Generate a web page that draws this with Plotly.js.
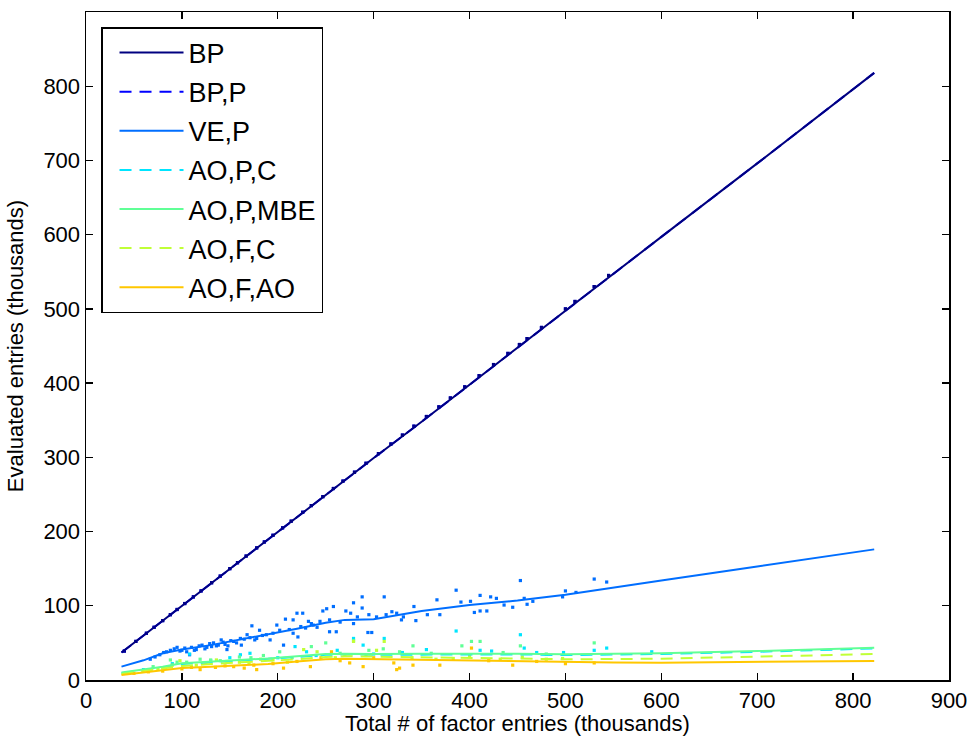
<!DOCTYPE html>
<html>
<head>
<meta charset="utf-8">
<script src="https://cdn.plot.ly/plotly-3.0.1.min.js"></script>
<style>html,body{margin:0;padding:0;background:#fff;}#chart{width:970px;height:738px;}</style>
</head>
<body>
<div id="chart"></div>
<script>
// ---- data (thousands) ----
const seriesNames = ["BP", "BP,P", "VE,P", "AO,P,C", "AO,P,MBE", "AO,F,C", "AO,F,AO"];
const seriesColors = ["#000080", "#0000ff", "#006eff", "#00e5ff", "#60ff96", "#c0ff37", "#ffc700"];
const xTitle = "Total # of factor entries (thousands)";
const yTitle = "Evaluated entries (thousands)";

// smoothed curves
const lineX = [37, 60, 80, 100, 130, 160, 190, 220, 250, 270, 300, 350, 400, 450, 500, 550, 600, 700, 822];
const lineBP    = [37, 60, 80, 100, 129, 159, 189, 219, 249, 269, 299, 348, 398, 448, 497, 547, 597, 696, 818];
const lineBPP   = [37, 60, 80, 100, 129, 159, 189, 219, 249, 269, 299, 348, 398, 448, 497, 547, 597, 696, 818];
const lineVEP   = [18, 26.5, 36, 41, 47, 54, 61, 69, 77, 81, 82, 93, 101, 107, 115, 124, 134, 153, 176];
const lineAOPC  = [9, 13, 17, 21.5, 24, 26, 28, 31, 34, 34.5, 34, 34.5, 35, 34.5, 33.6, 34.2, 35, 38, 42.5];
const lineAOPMBE= [10, 14, 18, 22.5, 25, 27, 29, 32, 35, 35.5, 35, 35.5, 36, 35.5, 34.6, 35.2, 36, 39, 43.5];
const lineAOFC  = [8, 12, 15.5, 19, 21.5, 23.5, 25, 28, 31, 32, 31.5, 30.5, 29.5, 29, 28, 28.2, 28.7, 31.5, 35];
const lineAOFAO = [6.7, 10, 13.5, 16, 18, 20, 21.5, 25, 28, 28.7, 28.2, 27, 25.8, 25, 24, 23.6, 23.4, 24.2, 25.6];

// individual measurements
const ptsBPx = [40, 52, 63, 71, 80, 88, 95, 103, 112, 120, 131, 140, 150, 158, 167, 178, 186, 195, 205, 214, 226, 235, 247, 258, 268, 280, 292, 305, 318, 330, 342, 355, 368, 380, 395, 410, 425, 440, 452, 460, 475, 500, 510, 530, 545];
const ptsBPy = [39, 52, 63, 71, 80, 88, 95, 103, 112, 120, 131, 140, 150, 158, 167, 178, 186, 195, 205, 214, 226, 235, 247, 258, 268, 280, 292, 305, 318, 330, 342, 355, 368, 380, 395, 410, 425, 440, 452, 460, 475, 500, 510, 530, 545];

const ptsVEx = [67, 72, 77, 81, 84, 88, 92, 95, 98, 100, 103, 105, 108, 110, 113, 115, 118, 121, 124, 126, 129, 131, 133, 136, 138, 141, 143, 145, 147, 148, 151, 154, 157, 161, 162, 165, 168, 171, 173, 176, 178, 181, 184, 188, 192, 195, 199, 202, 206, 208, 212, 216, 216, 220, 221, 224, 226, 229, 232, 235, 237, 241, 244, 247, 251, 254, 254, 258, 261, 265, 271, 276, 279, 279, 283, 288, 288, 294, 295, 298, 303, 311, 313, 319, 324, 329, 331, 342, 344, 356, 366, 369, 386, 391, 401, 405, 411, 411, 418, 422, 428, 436, 445, 453, 457, 460, 466, 497, 500, 511, 530, 543];
const ptsVEy = [28, 31, 34, 37, 38, 40, 42, 44, 39, 40, 43, 38, 34, 44, 40, 41, 46, 47, 42, 44, 49, 45, 50, 46, 47, 54, 51, 48, 41, 46, 53, 52, 50, 56, 47, 55, 61, 57, 73, 54, 56, 67, 60, 61, 54, 63, 74, 67, 47, 82, 68, 81, 63, 90, 58, 72, 90, 70, 79, 76, 74, 71, 79, 93, 96, 81, 65, 99, 65, 78, 93, 90, 104, 76, 85, 112, 97, 64, 88, 64, 85, 112, 88, 92, 90, 81, 85, 99, 80, 88, 108, 88, 121, 105, 106, 91, 93, 114, 93, 112, 110, 101, 98, 134, 110, 102, 106, 112, 120, 118, 136, 132];

const ptsAOPCx = [60, 90, 108, 130, 150, 161, 171, 200, 218, 230, 240, 262, 279, 289, 300, 311, 330, 355, 386, 411, 423, 453, 457, 470, 498, 530, 543, 590];
const ptsAOPCy = [14, 22, 35, 26, 30, 34, 36, 30, 45, 38, 33, 40, 56, 47, 35, 56, 37, 41, 66, 40, 39, 61, 43, 37, 37, 40, 43, 38];

const ptsMBEx = [70, 88, 95, 105, 119, 130, 140, 160, 172, 185, 202, 215, 235, 250, 265, 279, 295, 310, 327, 341, 360, 392, 402, 411, 435, 453, 480, 530];
const ptsMBEy = [18, 27, 24, 24, 28, 27, 26, 31, 30, 33, 38, 30, 45, 50, 36, 53, 40, 42, 38, 46, 36, 46, 52, 52, 37, 46, 35, 50];

const ptsAOFCx = [75, 90, 98, 115, 125, 136, 147, 160, 170, 182, 195, 210, 227, 241, 260, 270, 279, 292, 303, 311, 340, 365, 383, 400, 432, 455, 480, 497];
const ptsAOFCy = [15, 20, 26, 20, 23, 27, 25, 24, 22, 28, 27, 24, 41, 38, 30, 34, 52, 33, 40, 52, 30, 28, 29, 33, 28, 31, 28, 29];

const ptsAOFAOx = [50, 65, 80, 100, 110, 119, 135, 145, 154, 165, 175, 178, 195, 206, 220, 234, 245, 256, 265, 275, 289, 300, 321, 324, 327, 341, 369, 402, 420, 445, 470, 500, 530];
const ptsAOFAOy = [9, 11, 12, 15, 17, 14, 17, 19, 18, 16, 20, 14, 22, 16, 25, 18, 30, 38, 26, 23, 18, 30, 23, 14, 16, 20, 20, 43, 26, 20, 25, 22, 23];

const xTicks = [0, 100, 200, 300, 400, 500, 600, 700, 800, 900];
const yTicks = [0, 100, 200, 300, 400, 500, 600, 700, 800, 900];

// ---- traces ----
const lineData = [lineBP, lineBPP, lineVEP, lineAOPC, lineAOPMBE, lineAOFC, lineAOFAO];
const dashes = ["solid", "12px,8px", "solid", "12px,8px", "solid", "12px,8px", "solid"];
const pts = [[ptsBPx, ptsBPy], [ptsBPx, ptsBPy], [ptsVEx, ptsVEy], [ptsAOPCx, ptsAOPCy], [ptsMBEx, ptsMBEy], [ptsAOFCx, ptsAOFCy], [ptsAOFAOx, ptsAOFAOy]];
// drawing order: BP,P beneath BP
const drawOrder = [1, 0, 2, 3, 4, 5, 6];

const traces = [];
drawOrder.forEach(i => {
  traces.push({
    type: "scatter", mode: "markers", x: pts[i][0], y: pts[i][1],
    marker: {symbol: "square", size: 3.2, color: seriesColors[i], line: {width: 0}},
    showlegend: false, hoverinfo: "skip"
  });
});
drawOrder.forEach(i => {
  traces.push({
    type: "scatter", mode: "lines", x: lineX, y: lineData[i], name: seriesNames[i],
    legendgroup: "g" + i, legendrank: i + 1,
    line: {color: seriesColors[i], width: 2, dash: dashes[i]}
  });
});

const font = "'Liberation Sans', Arial, Helvetica, sans-serif";
const axisCommon = {
  showgrid: false, zeroline: false, showline: true, linecolor: "#000", linewidth: 1.5,
  mirror: "ticks", ticks: "inside", ticklen: 7, tickwidth: 1.3, tickcolor: "#000",
  tickfont: {family: font, size: 22, color: "#000"}, automargin: false
};

const layout = {
  width: 970, height: 738,
  margin: {l: 86, r: 21, t: 12, b: 58},
  paper_bgcolor: "#fff", plot_bgcolor: "#fff",
  font: {family: font, color: "#000"},
  xaxis: Object.assign({}, axisCommon, {
    range: [0, 900], tickvals: xTicks, ticktext: xTicks.map(String)
  }),
  yaxis: Object.assign({}, axisCommon, {
    range: [0, 900], tickvals: yTicks, ticktext: yTicks.map(String),
    title: {text: yTitle, font: {family: font, size: 22, color: "#000"}, standoff: 13}
  }),
  annotations: [{
    text: xTitle, xref: "paper", yref: "paper", x: 0.5, y: -0.0655,
    xanchor: "center", yanchor: "middle", showarrow: false,
    font: {family: font, size: 22, color: "#000"}
  }],
  legend: {
    x: 0.0174, y: 0.9775, xanchor: "left", yanchor: "top",
    bgcolor: "#fff", bordercolor: "#000", borderwidth: 1.5,
    font: {family: font, size: 27, color: "#000"},
    traceorder: "grouped", tracegroupgap: 1, itemwidth: 64, indentation: 12
  },
  showlegend: true
};

Plotly.newPlot("chart", traces, layout, {displayModeBar: false, staticPlot: true});
</script>
</body>
</html>
